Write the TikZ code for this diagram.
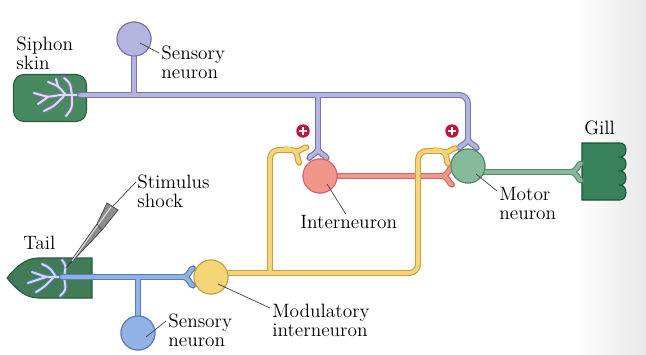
\documentclass[tikz,border=0pt]{standalone}
\usepackage{tikz}
\usetikzlibrary{positioning}
\usepackage{xcolor}

% tube = dark rim drawn first, light core on top
\newcommand\axon[2]{\draw[#1D, axout] #2; \draw[#1L, axin] #2;}
\newcommand\dendr[2]{\draw[#1D, dendout] #2; \draw[#1L!45!white, dendin] #2;}

\begin{document}
\begin{tikzpicture}[x=0.02cm, y=-0.02cm,
		every node/.style={font=\fontsize{11}{10.8}\selectfont},
		axout/.style={line width=3.4pt, line cap=round, rounded corners=5pt},
		axin/.style={line width=2.1pt, line cap=round, rounded corners=5pt},
		dendout/.style={line width=2.2pt, line cap=round, rounded corners=2pt},
		dendin/.style={line width=1.1pt, line cap=round, rounded corners=2pt},
		soma/.style={circle, draw=#1D, fill=#1L, line width=0.6pt, minimum size=0.68cm, inner sep=0pt},
		lbl/.style={align=left, inner sep=0pt, anchor=north west},
		leader/.style={draw=black!75, line width=0.4pt},
		plusmark/.style={circle, fill=plusred, minimum size=0.27cm, inner sep=0pt,
			path picture={\draw[white, line width=1.3pt]
				(path picture bounding box.center) +(-3.6,0) -- +(3.6,0)
				(path picture bounding box.center) +(0,-3.6) -- +(0,3.6);}},
		pics/fork/.style={code={
			\draw[#1D, line width=3.4pt, line cap=round]
				(2,0) .. controls (6,0) and (8,-4) .. (10,-7) .. controls (10.6,-8) and (11.4,-8.6) .. (12,-8.6)
				(2,0) .. controls (6,0) and (8,4) .. (10,7) .. controls (10.6,8) and (11.4,8.6) .. (12,8.6);
			\draw[#1L, line width=2.1pt, line cap=round]
				(-7,0) -- (2,0) .. controls (6,0) and (8,-4) .. (10,-7) .. controls (10.6,-8) and (11.4,-8.6) .. (12,-8.6)
				(2,0) .. controls (6,0) and (8,4) .. (10,7) .. controls (10.6,8) and (11.4,8.6) .. (12,8.6);}}]
		% Define colors
		\definecolor{skinL}{RGB}{72, 138, 96}
		\definecolor{skinD}{RGB}{38, 92, 60}
		\definecolor{lavL}{RGB}{180, 180, 222}
		\definecolor{lavD}{RGB}{118, 118, 168}
		\definecolor{pnkL}{RGB}{242, 150, 140}
		\definecolor{pnkD}{RGB}{205, 105, 100}
		\definecolor{motL}{RGB}{135, 185, 155}
		\definecolor{motD}{RGB}{80, 135, 105}
		\definecolor{yelL}{RGB}{246, 212, 120}
		\definecolor{yelD}{RGB}{200, 160, 70}
		\definecolor{bluL}{RGB}{145, 178, 228}
		\definecolor{bluD}{RGB}{88, 122, 182}
		\definecolor{gillL}{RGB}{55, 130, 90}
		\definecolor{gillD}{RGB}{28, 82, 52}
		\definecolor{plusred}{RGB}{185, 25, 60}

		\useasboundingbox (0,0) rectangle (646,355);
		\shade[left color=white, right color=black!9] (575,0) rectangle (646,355);

		% ===== BODY PARTS =====
		\node[draw=skinD, fill=skinL, rounded corners=6pt, line width=0.6pt,
			minimum width=1.46cm, minimum height=0.94cm] (siphon) at (50,98) {};
		% tail, pointed at the left
		\filldraw[draw=skinD, fill=skinL!90!black, line width=0.6pt]
			(92,258) -- (38,258) .. controls (25,258) and (15,268) .. (7,278)
			.. controls (15,288) and (25,298) .. (38,298) -- (92,298) -- cycle;
		% gill with scalloped edge
		\filldraw[draw=gillD, fill=gillL, line width=0.6pt]
			(582,143) -- (620,143)
			.. controls (628,143) and (628,157) .. (620,157)
			.. controls (628,157) and (628,171) .. (620,171)
			.. controls (628,171) and (628,185) .. (620,185)
			.. controls (628,185) and (628,200) .. (620,200)
			-- (582,200) -- cycle;

		% ===== JUNCTIONS AND AXON ENDS =====
		\coordinate (skinEnd) at (80,95);
		\coordinate (jA) at (134,95);
		\coordinate (jB) at (318,95);
		\coordinate (cornerA) at (468,95);
		\coordinate (endInter) at (318,146);
		\coordinate (endMotor) at (468,136);
		\coordinate (endRed) at (440,176);
		\coordinate (endGill) at (569,172);
		\coordinate (tailEnd) at (62,277);
		\coordinate (jC) at (138,277);
		\coordinate (endMod) at (181,277);
		\coordinate (yA) at (270,273);
		\coordinate (yB) at (418,273);
		\coordinate (yTopL) at (270,150);
		\coordinate (yEndL) at (292,150);
		\coordinate (yTopR) at (418,151);
		\coordinate (yEndR) at (441,151);

		% ===== SOMAS (placed first so the axons can use them) =====
		\path node[soma=lav] (sensA) at (134,39) {}
			node[soma=pnk] (inter) at (320,176) {}
			node[soma=mot] (motor) at (468,166) {}
			node[soma=yel] (modul) at (211,277) {}
			node[soma=blu] (sensB) at (138,333) {};

		% ===== DENDRITES =====
		\dendr{lav}{(skinEnd) -- (60,95)
			(66,95) -- (58,86) -- (48,82) (58,86) -- (56,79)
			(60,95) -- (48,97) -- (34,93) (48,97) -- (38,104)
			(64,96) -- (54,106) -- (44,111)
			(72,95) -- (70,83) -- (64,78)
			(72,96) -- (72,108) -- (66,116)}
		\dendr{blu}{(tailEnd) -- (46,277) -- (32,272) (46,277) -- (28,283)
			(54,277) -- (44,287) -- (36,292)
			(56,277) -- (50,268) -- (42,264)
			(64,277) -- (66,265) -- (62,260)
			(64,277) -- (66,290) -- (60,296)}

		% ===== AXONS =====
		\axon{lav}{(skinEnd) -- (cornerA) -- (endMotor) (jB) -- (endInter) (sensA) -- (jA)}
		\axon{blu}{(tailEnd) -- (endMod) (jC) -- (sensB)}
		\axon{pnk}{(inter.center |- endRed) -- (endRed)}
		\axon{mot}{(motor.center |- endGill) -- (endGill)}
		\axon{yel}{(modul.center |- yB) -- (yB) -- (yTopR) -- (yEndR)
			(yA) -- (yTopL) -- (yEndL)}

		% terminals
		\pic[rotate=-90] at (endInter) {fork=lav};
		\pic[rotate=-90] at (endMotor) {fork=lav};
		\pic at (endRed) {fork=pnk};
		\pic at (endGill) {fork=mot};
		\pic at (endMod) {fork=blu};
		\pic[rotate=-25] at (yEndL) {fork=yel};
		\pic[rotate=-25] at (yEndR) {fork=yel};

		% redraw somas over the axon ends
		\path node[soma=lav] at (sensA) {}
			node[soma=pnk] at (inter) {}
			node[soma=mot] at (motor) {}
			node[soma=yel] at (modul) {}
			node[soma=blu] at (sensB) {};

		% facilitation marks
		\node[plusmark] (plusA) at (303,131) {};
		\node[plusmark] (plusB) at (452,131) {};

		% ===== STIMULUS ELECTRODE =====
		\coordinate (elecTop) at (113,206);
		\filldraw[draw=black!75, fill=black!45, line width=0.4pt]
			(107,203) -- (118,210) -- (102,230) -- (66,268) -- (97,224) -- cycle;
		\draw[black!12, line width=0.6pt] (111,207) -- (72,261);
		\draw[black!75, line width=0.4pt] (97,224) -- (102,230);

		% ===== LABELS =====
		\node[lbl] (siphonLbl) at (16,37) {Siphon\\skin};
		\node[lbl] (sensALbl) at (161,46) {Sensory\\neuron};
		\node[lbl] (gillLbl) at (584,121) {Gill};
		\node[lbl] (interLbl) at (300,215) {Interneuron};
		\node[lbl] (motorLbl) at (499,187) {Motor\\neuron};
		\node[lbl] (stimLbl) at (137,175) {Stimulus\\shock};
		\node[lbl] (tailLbl) at (23,236) {Tail};
		\node[lbl] (sensBLbl) at (168,314) {Sensory\\neuron};
		\node[lbl] (modulLbl) at (272,304) {Modulatory\\interneuron};

		% leader lines
		\draw[leader] ([shift={(6,4)}]sensA.center) -- ([shift={(-2,7)}]sensALbl.north west);
		\draw[leader] ([shift={(7,8)}]inter.center) -- ([shift={(-3,-1)}]interLbl.north);
		\draw[leader] ([shift={(8,8)}]motor.center) -- ([shift={(-2,4)}]motorLbl.north west);
		\draw[leader] ([shift={(7,7)}]modul.center) -- ([shift={(-2,4)}]modulLbl.north west);
		\draw[leader] ([shift={(8,4)}]sensB.center) -- ([shift={(-2,7)}]sensBLbl.north west);
		\draw[leader] ([shift={(-1,7)}]stimLbl.north west) -- (elecTop);

	\end{tikzpicture}
\end{document}
